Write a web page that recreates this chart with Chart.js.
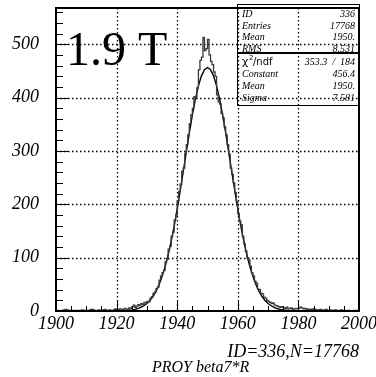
<!DOCTYPE html>
<html>
<head>
<meta charset="utf-8">
<script src="https://cdn.jsdelivr.net/npm/chart.js@4"></script>
<style>
  html, body { margin: 0; padding: 0; background: #fff; }
  #wrap { width: 376px; height: 377px; position: relative; }
</style>
</head>
<body>
<div id="wrap"><canvas id="chartHisto" width="376" height="377"></canvas></div>
<script>
// histogram: 200 bins of 0.5 from 1900 to 2000
const binStart = 1900;
const binWidth = 0.5;
const counts = [
  0, 1, 0, 0, 1, 2, 3, 2, 1, 1, 0, 1, 1, 0, 1, 0, 1, 2, 0, 1,
  1, 0, 2, 3, 3, 1, 0, 1, 2, 1, 0, 2, 3, 1, 1, 2, 1, 0, 3, 4,
  2, 3, 4, 2, 3, 5, 4, 3, 6, 5, 8, 11, 7, 9, 12, 10, 14, 12, 16, 15,
  18, 17, 24, 27, 33, 36, 42, 45, 58, 66, 72, 76, 92, 97, 116, 121, 140, 148, 171, 180,
  206, 224, 238, 262, 268, 296, 312, 330, 351, 368, 380, 402, 400, 418, 452, 470, 476, 513, 488, 492,
  509, 480, 468, 462, 448, 440, 405, 392, 388, 370, 362, 345, 330, 312, 294, 268, 256, 240, 222, 205,
  182, 168, 162, 140, 126, 112, 100, 96, 84, 72, 66, 56, 52, 41, 40, 33, 32, 26, 24, 20,
  18, 16, 14, 15, 11, 10, 9, 8, 7, 8, 6, 5, 7, 4, 5, 6, 3, 4, 5, 4,
  5, 7, 6, 4, 5, 3, 4, 2, 3, 4, 2, 3, 1, 2, 3, 2, 1, 2, 3, 1,
  1, 2, 0, 1, 2, 1, 0, 1, 2, 1, 0, 1, 0, 1, 0, 0, 1, 0, 1, 0
];

// gaussian fit curve, one value per unit from 1920 to 1980
const fitStart = 1920;
const fitValues = [
  0.2, 0.3, 0.5, 0.8, 1.3, 2.0, 3.0, 4.6, 6.8, 9.8,
  14.0, 19.7, 27.2, 36.9, 49.2, 64.4, 82.9, 104.9, 130.4, 159.3,
  191.2, 225.6, 261.5, 298.0, 333.7, 367.2, 397.1, 422.0, 440.8, 452.4,
  456.4,
  452.4, 440.8, 422.0, 397.1, 367.2, 333.7, 298.0, 261.5, 225.6, 191.2,
  159.3, 130.4, 104.9, 82.9, 64.4, 49.2, 36.9, 27.2, 19.7, 14.0,
  9.8, 6.8, 4.6, 3.0, 2.0, 1.3, 0.8, 0.5, 0.3, 0.2
];

const xGrid = [1920, 1940, 1960, 1980];
const yGrid = [100, 200, 300, 400, 500];

const statLabels = ["ID", "Entries", "Mean", "RMS"];
const statValues = ["336", "17768", "1950.", "8.531"];
const fitLabels = ["Constant", "Mean", "Sigma"];
const fitParams = ["456.4", "1950.", "7.581"];
const chiText = "353.3  /  184";

const serif = "'Liberation Serif', 'Times New Roman', serif";

const histPoints = counts.map((c, i) => ({ x: binStart + i * binWidth, y: c }));
histPoints.push({ x: binStart + counts.length * binWidth, y: counts[counts.length - 1] });
const fitPoints = fitValues.map((v, i) => ({ x: fitStart + i, y: v }));

const pawPlugin = {
  id: "paw",
  beforeDatasetsDraw(chart) {
    const { ctx, chartArea: a, scales: { x, y } } = chart;
    ctx.save();
    ctx.strokeStyle = "#000";
    ctx.lineWidth = 1.3;
    ctx.setLineDash([1.5, 2.5]);
    xGrid.forEach((v) => {
      const px = Math.round(x.getPixelForValue(v)) + 0.5;
      ctx.beginPath(); ctx.moveTo(px, a.top); ctx.lineTo(px, a.bottom); ctx.stroke();
    });
    yGrid.forEach((v) => {
      const py = Math.round(y.getPixelForValue(v)) + 0.5;
      ctx.beginPath(); ctx.moveTo(a.left, py); ctx.lineTo(a.right, py); ctx.stroke();
    });
    ctx.restore();
  },
  afterDatasetsDraw(chart) {
    const { ctx, chartArea: a, scales: { x, y } } = chart;
    ctx.save();
    ctx.strokeStyle = "#000";
    ctx.lineWidth = 1;
    // inward ticks
    for (let v = 1905; v < 2000; v += 5) {
      const px = Math.round(x.getPixelForValue(v)) + 0.5;
      const len = v % 20 === 0 ? 10 : 5;
      ctx.beginPath(); ctx.moveTo(px, a.bottom); ctx.lineTo(px, a.bottom - len); ctx.stroke();
    }
    for (let v = 20; v < 568; v += 20) {
      const py = Math.round(y.getPixelForValue(v)) + 0.5;
      const len = v % 100 === 0 ? 12 : 7;
      ctx.beginPath(); ctx.moveTo(a.left, py); ctx.lineTo(a.left + len, py); ctx.stroke();
    }
    // frame
    ctx.lineWidth = 2;
    ctx.strokeRect(a.left, a.top, a.right - a.left, a.bottom - a.top);

    // big label
    ctx.fillStyle = "#000";
    ctx.font = "48px " + serif;
    ctx.textBaseline = "alphabetic";
    ctx.textAlign = "left";
    ctx.fillText("1.9 T", 66, 65);

    // stats box
    const bx = 237, by = 4, bw = a.right - bx, bh = 101;
    ctx.lineWidth = 1;
    ctx.strokeRect(bx + 0.5, by + 0.5, bw, bh);
    ctx.lineWidth = 2;
    ctx.beginPath(); ctx.moveTo(bx, 53); ctx.lineTo(a.right, 53); ctx.stroke();

    ctx.fillStyle = "#000";
    ctx.textBaseline = "middle";
    ctx.font = "italic 10px " + serif;
    const rowsTop = [14, 26, 37, 49];
    statLabels.forEach((t, i) => {
      ctx.textAlign = "left"; ctx.fillText(t, bx + 5, rowsTop[i]);
      ctx.textAlign = "right"; ctx.fillText(statValues[i], a.right - 4, rowsTop[i]);
    });
    // chi2 row
    ctx.textAlign = "left";
    ctx.font = "11px 'DejaVu Sans', sans-serif";
    ctx.fillText("\u03C7", bx + 5, 62);
    ctx.font = "7px 'DejaVu Sans', sans-serif";
    ctx.fillText("2", bx + 12, 58);
    ctx.font = "10px 'DejaVu Sans', sans-serif";
    ctx.fillText("/ndf", bx + 16, 62);
    ctx.font = "italic 10px " + serif;
    ctx.textAlign = "right";
    ctx.fillText(chiText, a.right - 4, 62);
    const rowsBot = [74, 86, 98];
    fitLabels.forEach((t, i) => {
      ctx.textAlign = "left"; ctx.fillText(t, bx + 5, rowsBot[i]);
      ctx.textAlign = "right"; ctx.fillText(fitParams[i], a.right - 4, rowsBot[i]);
    });

    // captions under the plot
    ctx.textBaseline = "alphabetic";
    ctx.font = "italic 18px " + serif;
    ctx.textAlign = "right";
    ctx.fillText("ID=336,N=17768", a.right, 357);
    ctx.font = "italic 16px " + serif;
    ctx.textAlign = "left";
    ctx.fillText("PROY beta7*R", 152, 372);
    ctx.restore();
  },
};

new Chart(document.getElementById("chartHisto"), {
  type: "line",
  data: {
    datasets: [
      { label: "histo", data: histPoints, stepped: "before", borderColor: "#3a3a3a", borderWidth: 1.3, pointRadius: 0, fill: false },
      { label: "fit", data: fitPoints, borderColor: "#000", borderWidth: 1.4, pointRadius: 0, tension: 0, fill: false },
    ],
  },
  options: {
    responsive: false,
    animation: false,
    devicePixelRatio: 1,
    layout: { autoPadding: false, padding: { top: 8, right: 17, left: 0, bottom: 0 } },
    plugins: { legend: { display: false }, tooltip: { enabled: false } },
    scales: {
      x: {
        type: "linear", min: 1900, max: 2000,
        grid: { display: false, drawTicks: false },
        border: { display: false },
        ticks: { stepSize: 20, padding: 2, color: "#000", maxRotation: 0, callback: (v) => String(v), font: { family: serif, style: "italic", size: 18 } },
        afterFit: (s) => { s.height = 66; s.paddingLeft = 0; s.paddingRight = 0; },
      },
      y: {
        min: 0, max: 568,
        grid: { display: false, drawTicks: false },
        border: { display: false },
        ticks: { stepSize: 100, includeBounds: false, padding: 17, color: "#000", callback: (v) => String(v), font: { family: serif, style: "italic", size: 18 } },
        afterFit: (s) => { s.width = 56; s.paddingTop = 0; s.paddingBottom = 0; },
      },
    },
  },
  plugins: [pawPlugin],
});
</script>
</body>
</html>
